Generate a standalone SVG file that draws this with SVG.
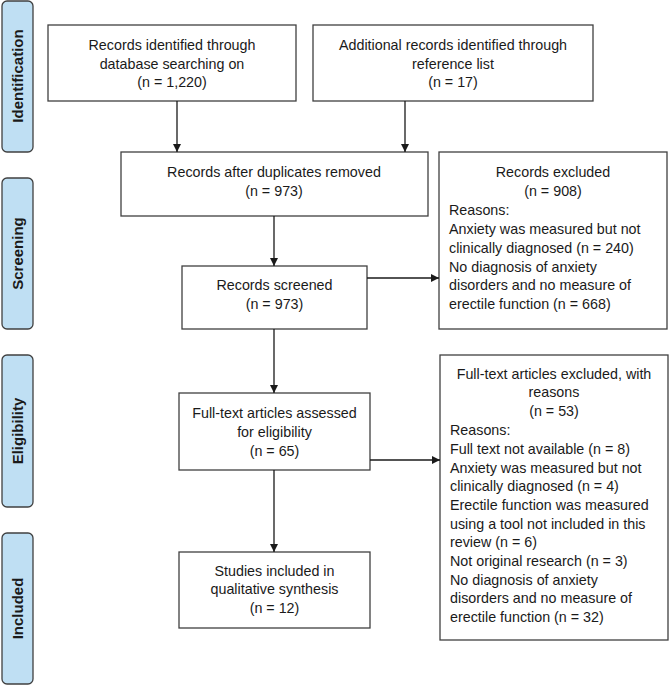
<svg xmlns="http://www.w3.org/2000/svg" width="669" height="685" viewBox="0 0 669 685">
<style>
.box{fill:#fff;stroke:#404040;stroke-width:1.3}
.side{fill:#bfdff3;stroke:#404040;stroke-width:1.3}
.t{font-family:"Liberation Sans",Arial,sans-serif;font-size:14.3px;fill:#1a1a1a}
.c{text-anchor:middle}
.s{font-family:"Liberation Sans",Arial,sans-serif;font-size:15px;font-weight:bold;fill:#1a1a1a;text-anchor:middle}
.ln{stroke:#1a1a1a;stroke-width:1.3;fill:none}
</style>
<defs>
<marker id="ah" viewBox="0 0 10 10" refX="10" refY="5" markerWidth="8" markerHeight="8" markerUnits="userSpaceOnUse" orient="auto">
<path d="M0,0 L10,5 L0,10 Z" fill="#1a1a1a"/>
</marker>
</defs>
<g id="side-identification"><rect class="side" x="2" y="1" width="31" height="151" rx="5"/><text class="s" transform="translate(23,76) rotate(-90)">Identification</text></g>
<g id="side-screening"><rect class="side" x="2" y="178" width="31" height="151" rx="5"/><text class="s" transform="translate(23,253.5) rotate(-90)">Screening</text></g>
<g id="side-eligibility"><rect class="side" x="2" y="355" width="31" height="152" rx="5"/><text class="s" transform="translate(23,431) rotate(-90)">Eligibility</text></g>
<g id="side-included"><rect class="side" x="2" y="533" width="31" height="151" rx="5"/><text class="s" transform="translate(23,608.5) rotate(-90)">Included</text></g>

<g id="n-database"><rect class="box" x="48" y="25" width="248" height="76"/>
<text class="t c" x="172" y="50">Records identified through</text>
<text class="t c" x="172" y="68.5">database searching on</text>
<text class="t c" x="172" y="87">(n = 1,220)</text></g>

<g id="n-reference"><rect class="box" x="313" y="25" width="280" height="76"/>
<text class="t c" x="453" y="50">Additional records identified through</text>
<text class="t c" x="453" y="68.5">reference list</text>
<text class="t c" x="453" y="87">(n = 17)</text></g>

<g id="n-duplicates"><rect class="box" x="121" y="152" width="307" height="64"/>
<text class="t c" x="274" y="177">Records after duplicates removed</text>
<text class="t c" x="274" y="195.5">(n = 973)</text></g>

<g id="n-excluded"><rect class="box" x="439" y="152" width="228" height="177"/>
<text class="t c" x="553" y="177">Records excluded</text>
<text class="t c" x="553" y="195.5">(n = 908)</text>
<text class="t" x="449" y="214.5">Reasons:</text>
<text class="t" x="449" y="233.5">Anxiety was measured but not</text>
<text class="t" x="449" y="252.5">clinically diagnosed (n = 240)</text>
<text class="t" x="449" y="271.5">No diagnosis of anxiety</text>
<text class="t" x="449" y="290">disorders and no measure of</text>
<text class="t" x="449" y="308.5">erectile function (n = 668)</text></g>

<g id="n-screened"><rect class="box" x="182" y="266" width="185" height="63"/>
<text class="t c" x="274.5" y="290">Records screened</text>
<text class="t c" x="274.5" y="308.5">(n = 973)</text></g>

<g id="n-assessed"><rect class="box" x="179" y="393" width="191" height="77"/>
<text class="t c" x="274.5" y="418">Full-text articles assessed</text>
<text class="t c" x="274.5" y="436.5">for eligibility</text>
<text class="t c" x="274.5" y="455.5">(n = 65)</text></g>

<g id="n-included"><rect class="box" x="179" y="552" width="191" height="76"/>
<text class="t c" x="274.5" y="575.5">Studies included in</text>
<text class="t c" x="274.5" y="594">qualitative synthesis</text>
<text class="t c" x="274.5" y="612.5">(n = 12)</text></g>

<g id="n-ftexcluded"><rect class="box" x="440" y="355" width="228" height="285"/>
<text class="t c" x="554" y="378.5">Full-text articles excluded, with</text>
<text class="t c" x="554" y="397">reasons</text>
<text class="t c" x="554" y="415.5">(n = 53)</text>
<text class="t" x="450" y="434.5">Reasons:</text>
<text class="t" x="450" y="453.5">Full text not available (n = 8)</text>
<text class="t" x="450" y="472.5">Anxiety was measured but not</text>
<text class="t" x="450" y="491">clinically diagnosed (n = 4)</text>
<text class="t" x="450" y="510">Erectile function was measured</text>
<text class="t" x="450" y="528.5">using a tool not included in this</text>
<text class="t" x="450" y="547">review (n = 6)</text>
<text class="t" x="450" y="566">Not original research (n = 3)</text>
<text class="t" x="450" y="584.5">No diagnosis of anxiety</text>
<text class="t" x="450" y="603">disorders and no measure of</text>
<text class="t" x="450" y="622">erectile function (n = 32)</text></g>

<g id="connectors">
<line class="ln" x1="177" y1="101" x2="177" y2="152" marker-end="url(#ah)"/>
<line class="ln" x1="405" y1="101" x2="405" y2="152" marker-end="url(#ah)"/>
<line class="ln" x1="274" y1="216" x2="274" y2="266" marker-end="url(#ah)"/>
<line class="ln" x1="274" y1="329" x2="274" y2="393" marker-end="url(#ah)"/>
<line class="ln" x1="274" y1="470" x2="274" y2="552" marker-end="url(#ah)"/>
<line class="ln" x1="367" y1="278" x2="439" y2="278" marker-end="url(#ah)"/>
<line class="ln" x1="370" y1="460" x2="440" y2="460" marker-end="url(#ah)"/>
</g>
</svg>
